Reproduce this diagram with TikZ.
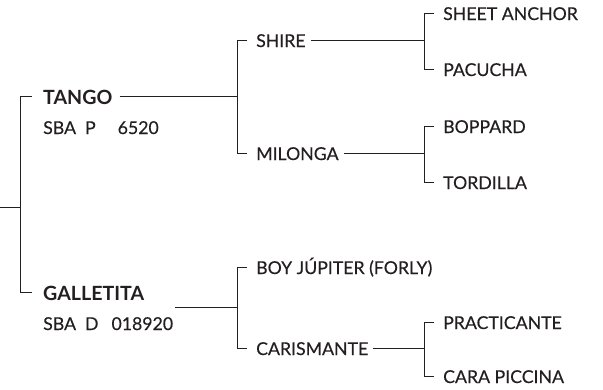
\documentclass[tikz,border=0pt]{standalone}
\usepackage{fontspec}
\setmainfont{Lato}
\newfontfamily\namefont{Lato}[FakeBold=0.3]
\definecolor{ink}{HTML}{231F20}
\begin{document}
\begin{tikzpicture}[x=1pt,y=-1pt,
  nm/.style={anchor=base west, inner sep=0pt, text=ink, font=\namefont\fontsize{17.7}{20}\selectfont},
  bnm/.style={nm, font=\fontsize{19.6}{22}\selectfont\bfseries},
  ln/.style={draw=ink, line width=1.4pt}]
\useasboundingbox (0,0) rectangle (603,389);
% generation 1
\node[bnm] (tango) at (43,104) {TANGO};
\node[nm] (sbap) at (43,134) {SBA\hspace{9pt}P\hspace{22pt}6520};
\node[bnm] (galle) at (43,300) {GALLETITA};
\node[nm] (sbad) at (43,330) {SBA\hspace{9pt}D\hspace{13pt}018920};
% generation 2
\node[nm] (shire) at (256,47) {SHIRE};
\node[nm] (milonga) at (256,160) {MILONGA};
\node[nm] (boy) at (256,274) {BOY JÚPITER (FORLY)};
\node[nm] (caris) at (256,355) {CARISMANTE};
% generation 3
\node[nm] (sheet) at (443,20) {SHEET ANCHOR};
\node[nm] (pacu) at (443,76) {PACUCHA};
\node[nm] (bopp) at (443,133) {BOPPARD};
\node[nm] (tord) at (443,189) {TORDILLA};
\node[nm] (pract) at (443,329) {PRACTICANTE};
\node[nm] (cara) at (443,383) {CARA PICCINA};
% junctions
\coordinate (root) at (0,207.5);
\coordinate (j0) at (20.5,207.5);
\coordinate (j1) at (237.5,96.5);
\coordinate (j2) at (237.5,307.5);
\coordinate (j3) at (424.5,40.5);
\coordinate (j4) at (424.5,153.5);
\coordinate (j5) at (424.5,348.5);
% root bracket
\draw[ln] (root) -- (j0);
\draw[ln] ([xshift=-11pt,yshift=7.5pt]tango.base west) -| (j0) |- ([xshift=-11pt,yshift=7.5pt]galle.base west);
% tango bracket
\draw[ln, shorten <=7pt] (j1 -| tango.east) -- (j1);
\draw[ln] ([xshift=-9pt,yshift=6.5pt]shire.base west) -| (j1) |- ([xshift=-9pt,yshift=6.5pt]milonga.base west);
% galletita bracket
\draw[ln, shorten <=2pt] (j2 -| sbad.east) -- (j2);
\draw[ln] ([xshift=-9pt,yshift=6.5pt]boy.base west) -| (j2) |- ([xshift=-9pt,yshift=6.5pt]caris.base west);
% shire bracket
\draw[ln, shorten <=5pt] (j3 -| shire.east) -- (j3);
\draw[ln] ([xshift=-9pt,yshift=6.5pt]sheet.base west) -| (j3) |- ([xshift=-9pt,yshift=6.5pt]pacu.base west);
% milonga bracket
\draw[ln, shorten <=5pt] (j4 -| milonga.east) -- (j4);
\draw[ln] ([xshift=-9pt,yshift=6.5pt]bopp.base west) -| (j4) |- ([xshift=-9pt,yshift=6.5pt]tord.base west);
% carismante bracket
\draw[ln, shorten <=5pt] (j5 -| caris.east) -- (j5);
\draw[ln] ([xshift=-9pt,yshift=6.5pt]pract.base west) -| (j5) |- ([xshift=-9pt,yshift=6.5pt]cara.base west);
\end{tikzpicture}
\end{document}
